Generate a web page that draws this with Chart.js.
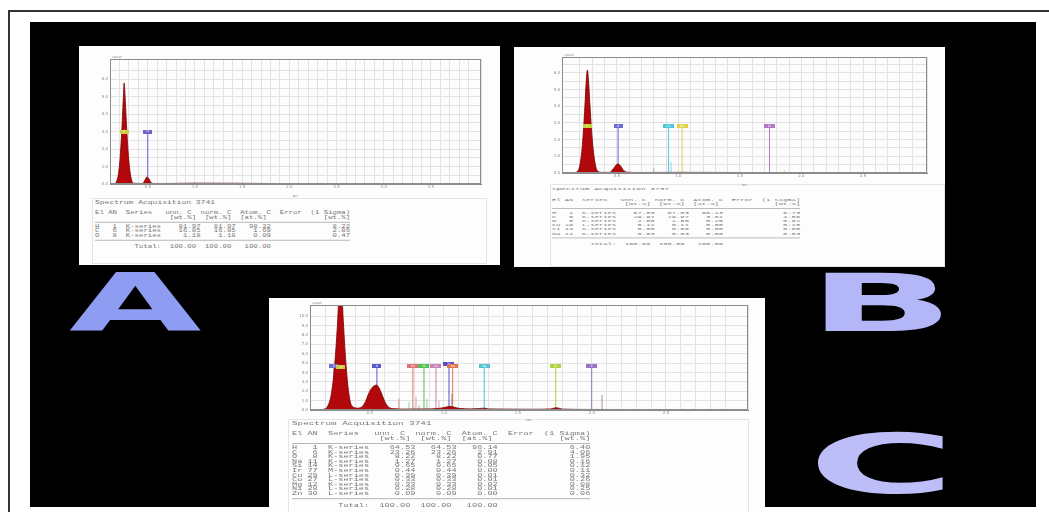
<!DOCTYPE html>
<html>
<head>
<meta charset="utf-8">
<script src="https://cdn.jsdelivr.net/npm/chart.js@4.4.1/dist/chart.umd.min.js"></script>
<style>
  html, body { margin:0; padding:0; background:#fff; width:1049px; height:512px; overflow:hidden; position:relative; }
  #frame { position:absolute; left:8px; top:10px; width:1045px; height:510px; border-left:2px solid #333; border-top:2px solid #333; }
  #black { position:absolute; left:30px; top:22px; width:1006px; height:485px; background:#000; }
  .card { position:absolute; background:#fdfdfd; }
  .tbox { position:absolute; border:1px solid #e4e4e4; }
  canvas { position:absolute; }
  .tbl { position:absolute; transform-origin:0 0; font-family:"Liberation Mono", monospace; font-size:10px; color:#777; white-space:pre; }
  .tbl div { height:10px; line-height:10px; position:relative; }
  .tbl .sep::after { content:''; position:absolute; left:0; top:4px; width:348px; border-top:2px solid #b0b0b0; }
  .tbl .tot { margin-top:5px; }
  .big { position:absolute; transform-origin:0 0; font-family:"DejaVu Sans", sans-serif; font-weight:bold; line-height:1; }
</style>
</head>
<body>
<div id="frame"></div>
<div id="black"></div>

<div class="card" style="left:79px;top:46px;width:421px;height:219px"></div>
<div class="card" style="left:514px;top:47px;width:431px;height:220px"></div>
<div class="card" style="left:269px;top:298px;width:496px;height:214px"></div>

<div class="tbox" style="left:92px;top:198px;width:393px;height:64px"></div>
<div class="tbox" style="left:550px;top:184px;width:393px;height:81px"></div>
<div class="tbox" style="left:288px;top:419px;width:459px;height:100px"></div>

<canvas id="specA" width="397" height="146" style="left:90px;top:52px"></canvas>
<canvas id="specB" width="391" height="137" style="left:542px;top:50px"></canvas>
<canvas id="specC" width="464" height="124" style="left:290px;top:298px"></canvas>

<div class="tbl" id="titleA" style="left:95px;top:199.5px;transform:scale(0.8,0.45)"></div>
<div class="tbl" id="tblA" style="left:95px;top:210.7px;transform:scale(0.733,0.45)"></div>
<div class="tbl" id="titleB" style="left:552px;top:186.8px;transform:scale(0.78,0.42)"></div>
<div class="tbl" id="tblB" style="left:552px;top:197.9px;transform:scale(0.713,0.42)"></div>
<div class="tbl" id="titleC" style="left:292px;top:420.7px;transform:scale(0.93,0.46)"></div>
<div class="tbl" id="tblC" style="left:292px;top:431.7px;transform:scale(0.857,0.46)"></div>

<div class="big" style="left:69px;top:263.6px;font-size:80px;color:#8e9cf1;transform:scaleX(2.14)">A</div>
<div class="big" style="left:808px;top:263.6px;font-size:80px;color:#b3b6f7;transform:scaleX(2.4)">B</div>
<div class="big" style="left:808px;top:424px;font-size:82px;color:#bdbdf8;transform:scaleX(2.45)">C</div>

<script>
// ── Spectrum A ───────────────────────────────────────────────
const aEnergy = [0.10, 0.15, 0.17, 0.19, 0.21, 0.23, 0.24, 0.25, 0.26, 0.27, 0.29, 0.31, 0.33, 0.35, 0.44, 0.46, 0.48, 0.49, 0.51, 0.53, 0.56, 0.70, 1.00, 1.50, 2.00, 3.00, 4.03];
const aCounts = [0, 0.02, 0.15, 0.6, 1.7, 3.6, 4.8, 5.8, 5.0, 3.9, 2.0, 0.8, 0.2, 0.04, 0.03, 0.12, 0.33, 0.40, 0.32, 0.12, 0.03, 0.03, 0.05, 0.04, 0.02, 0.01, 0.01];
const aLineKeV = [0.25, 0.50];
const aLineTop = [3.0, 3.0];
const aLineTag = ['C', 'O'];
const aLineColor = ['#d2cc46', '#7462c6'];
const aStickKeV = [];
const aStickTop = [];
const aStickColor = [];

// ── Spectrum B ───────────────────────────────────────────────
const bEnergy = [0.054, 0.15, 0.18, 0.20, 0.22, 0.24, 0.25, 0.26, 0.27, 0.28, 0.30, 0.32, 0.34, 0.37, 0.44, 0.46, 0.48, 0.50, 0.51, 0.53, 0.55, 0.58, 0.70, 1.00, 1.50, 2.00, 3.02];
const bCounts = [0, 0.02, 0.1, 0.5, 1.7, 4.0, 5.4, 6.17, 5.5, 4.2, 2.0, 0.7, 0.15, 0.04, 0.04, 0.15, 0.35, 0.52, 0.54, 0.42, 0.2, 0.05, 0.03, 0.04, 0.03, 0.02, 0.01];
const bLineKeV = [0.26, 0.51, 0.92, 1.03, 1.74];
const bLineTop = [2.8, 2.8, 2.8, 2.8, 2.8];
const bLineTag = ['C', 'O', 'Cu', 'Na', 'Si'];
const bLineColor = ['#c6d43c', '#6a68d6', '#4cc6d8', '#e0d048', '#b478c6'];
const bStickKeV = [0.80, 0.94, 1.86];
const bStickTop = [0.30, 0.66, 0.15];
const bStickColor = ['#b0b0b0', '#86d6e2', '#c0c0c0'];

// ── Spectrum C ───────────────────────────────────────────────
const cEnergy = [0.095, 0.17, 0.20, 0.22, 0.24, 0.26, 0.28, 0.29, 0.30, 0.31, 0.32, 0.34, 0.36, 0.38, 0.42, 0.45, 0.47, 0.49, 0.51, 0.53, 0.545, 0.56, 0.58, 0.60, 0.62, 0.65, 0.75, 0.90, 0.98, 1.01, 1.04, 1.07, 1.10, 1.18, 1.24, 1.27, 1.30, 1.40, 1.60, 1.72, 1.76, 1.80, 2.00, 2.50, 3.054];
const cCounts = [0, 0.05, 0.15, 0.6, 1.8, 4.5, 9, 12, 14, 12.5, 9.5, 4.5, 1.5, 0.4, 0.2, 0.4, 0.9, 1.7, 2.3, 2.6, 2.65, 2.4, 1.7, 0.9, 0.4, 0.15, 0.1, 0.12, 0.2, 0.3, 0.38, 0.3, 0.18, 0.12, 0.15, 0.2, 0.12, 0.1, 0.08, 0.12, 0.25, 0.1, 0.06, 0.04, 0.03];
const cLineKeV = [0.257, 0.304, 0.547, 0.79, 0.865, 0.946, 1.034, 1.059, 1.272, 1.755, 1.998];
const cLineTop = [4.7, 4.6, 4.7, 4.7, 4.7, 4.7, 4.9, 4.7, 4.7, 4.7, 4.7];
const cLineTag = ['C', 'C', 'O', 'Co', 'Ni', 'Cu', 'Zn', 'Na', 'Mg', 'Si', 'Ir'];
const cLineColor = ['#7070d2', '#c8d044', '#5a5ad0', '#e07474', '#52c052', '#c584b4', '#5452c8', '#e2744e', '#54c2d2', '#b2d244', '#9474c4'];
const cStickKeV = [0.696, 0.764, 0.811, 0.831, 0.885, 0.966, 1.054, 2.068];
const cStickTop = [1.2, 0.85, 1.4, 0.5, 1.2, 1.0, 1.7, 1.6];
const cStickColor = ['#c49494', '#98d698', '#d6a4a4', '#c8a8a8', '#98d498', '#d4a4c4', '#a07070', '#b09090'];

// ── Quantification tables ────────────────────────────────────
const aTitle = 'Spectrum Acquisition 3741';
const aRows = [
  ['H', 1, 'K-series', 81.97, 81.97, 98.22, 8.22],
  ['C', 6, 'K-series', 16.85, 16.85, 1.69, 2.86],
  ['O', 8, 'K-series', 1.18, 1.18, 0.09, 0.47]
];
const bTitle = 'Spectrum Acquisition 3737';
const bRows = [
  ['H', 1, 'K-series', 67.03, 67.03, 96.13, 6.73],
  ['C', 6, 'K-series', 29.97, 29.97, 3.61, 4.56],
  ['O', 8, 'K-series', 2.80, 2.80, 0.25, 0.62],
  ['Cu', 29, 'L-series', 0.11, 0.11, 0.00, 0.15],
  ['Si', 14, 'K-series', 0.06, 0.06, 0.00, 0.05],
  ['Na', 11, 'K-series', 0.03, 0.03, 0.00, 0.03]
];
const cTitle = 'Spectrum Acquisition 3741';
const cRows = [
  ['H', 1, 'K-series', 64.53, 64.53, 96.14, 6.40],
  ['C', 6, 'K-series', 23.26, 23.26, 2.91, 4.06],
  ['O', 8, 'K-series', 8.22, 8.22, 0.77, 1.95],
  ['Na', 11, 'K-series', 1.27, 1.27, 0.08, 0.16],
  ['Si', 14, 'K-series', 0.65, 0.65, 0.05, 0.12],
  ['Ir', 77, 'M-series', 0.44, 0.44, 0.00, 0.11],
  ['Cu', 29, 'L-series', 0.39, 0.39, 0.01, 0.32],
  ['Co', 27, 'L-series', 0.33, 0.33, 0.01, 0.26],
  ['Mg', 12, 'K-series', 0.33, 0.33, 0.02, 0.08],
  ['Ni', 28, 'L-series', 0.28, 0.28, 0.01, 0.25],
  ['Zn', 30, 'L-series', 0.09, 0.09, 0.00, 0.06]
];

// frame, peak-label boxes, cps/eV caption
const spectrumDecor = {
  id: 'spectrumDecor',
  afterDatasetsDraw(chart) {
    const { ctx, chartArea: a } = chart;
    ctx.save();
    chart.data.datasets.forEach((d, i) => {
      if (!d.tag) return;
      const p = chart.getDatasetMeta(i).data[1];
      const w = d.tag.length > 1 ? 11 : 9;
      ctx.fillStyle = d.borderColor;
      ctx.fillRect(Math.round(p.x - w / 2), Math.round(p.y - 2), w, 4);
      ctx.fillStyle = '#fff';
      ctx.font = '3px "DejaVu Sans"';
      ctx.textAlign = 'center'; ctx.textBaseline = 'middle';
      ctx.fillText(d.tag, p.x, p.y);
    });
    ctx.strokeStyle = '#8c8c8c'; ctx.lineWidth = 1;
    ctx.strokeRect(a.left + 0.5, a.top + 0.5, a.right - a.left - 1, a.bottom - a.top - 1);
    ctx.fillStyle = '#888';
    ctx.font = '3px "DejaVu Sans"';
    ctx.textAlign = 'left'; ctx.textBaseline = 'bottom';
    ctx.fillText('cps/eV', a.left + 2, a.top);
    ctx.restore();
  }
};

function near(v, step) { return Math.abs(v / step - Math.round(v / step)) < 1e-6; }

function spectrumChart(id, s) {
  const datasets = [{
    data: s.energy.map((e, i) => ({ x: e, y: s.counts[i] })),
    fill: 'origin', backgroundColor: '#b2080c', borderColor: '#7a0000', borderWidth: 0.8,
    pointRadius: 0, tension: 0.4, cubicInterpolationMode: 'monotone', order: 0
  }];
  s.lineKeV.forEach((k, i) => datasets.push({
    data: [{ x: k, y: 0 }, { x: k, y: s.lineTop[i] }], tag: s.lineTag[i],
    borderColor: s.lineColor[i], borderWidth: 1, pointRadius: 0, fill: false, order: 1
  }));
  s.stickKeV.forEach((k, i) => datasets.push({
    data: [{ x: k, y: 0 }, { x: k, y: s.stickTop[i] }],
    borderColor: s.stickColor[i], borderWidth: 1, pointRadius: 0, fill: false, order: 2
  }));
  const tickFont = { size: 4, family: 'DejaVu Sans' };
  new Chart(document.getElementById(id), {
    type: 'line',
    data: { datasets },
    plugins: [spectrumDecor],
    options: {
      responsive: false, animation: false, devicePixelRatio: 1,
      layout: { padding: { top: 7, right: 6, left: 0, bottom: 0 } },
      plugins: { legend: { display: false }, tooltip: { enabled: false } },
      scales: {
        x: {
          type: 'linear', min: s.xMin, max: s.xMax,
          afterFit: sc => { sc.height = s.xH; },
          ticks: { stepSize: 0.1, autoSkip: false, maxRotation: 0, padding: 1, font: tickFont, color: '#888',
                   callback: v => (near(v, 0.5) && v > 0.2 ? v.toFixed(1) : '') },
          grid: { color: '#e2e2e2', drawTicks: false },
          border: { color: '#8c8c8c' },
          title: { display: true, text: 'keV', font: { size: 3, family: 'DejaVu Sans' }, color: '#888', padding: 0 }
        },
        y: {
          min: 0, max: s.yMax,
          afterFit: sc => { sc.width = 20; },
          ticks: { stepSize: s.yStep, autoSkip: false, padding: 2, font: tickFont, color: '#888',
                   callback: v => (near(v, 1) && v <= s.yLabelMax ? v.toFixed(1) : '') },
          grid: { color: '#e2e2e2', drawTicks: false },
          border: { color: '#8c8c8c' }
        }
      }
    }
  });
}

spectrumChart('specA', { energy: aEnergy, counts: aCounts, lineKeV: aLineKeV, lineTop: aLineTop, lineTag: aLineTag, lineColor: aLineColor,
  stickKeV: aStickKeV, stickTop: aStickTop, stickColor: aStickColor, xMin: 0.1, xMax: 4.03, yMax: 7.17, yLabelMax: 7, yStep: 0.5, xH: 14 });
spectrumChart('specB', { energy: bEnergy, counts: bCounts, lineKeV: bLineKeV, lineTop: bLineTop, lineTag: bLineTag, lineColor: bLineColor,
  stickKeV: bStickKeV, stickTop: bStickTop, stickColor: bStickColor, xMin: 0.054, xMax: 3.02, yMax: 6.95, yLabelMax: 6, yStep: 0.5, xH: 14 });
spectrumChart('specC', { energy: cEnergy, counts: cCounts, lineKeV: cLineKeV, lineTop: cLineTop, lineTag: cLineTag, lineColor: cLineColor,
  stickKeV: cStickKeV, stickTop: cStickTop, stickColor: cStickColor, xMin: 0.095, xMax: 3.054, yMax: 11.2, yLabelMax: 11, yStep: 1, xH: 12 });

// ── tables as monospaced text ─────────────────────────────────
function fmtRow(r) {
  return r[0].padEnd(3) + String(r[1]).padStart(2) + '  ' + r[2] +
    r[3].toFixed(2).padStart(9) + r[4].toFixed(2).padStart(8) + r[5].toFixed(2).padStart(8) + r[6].toFixed(2).padStart(18);
}
function fillTable(titleId, tblId, title, rows) {
  document.getElementById(titleId).textContent = title;
  const head = ['El AN  Series   unn. C  norm. C  Atom. C  Error  (1 Sigma)',
                ' '.repeat(17) + '[wt.%]  [wt.%]  [at.%]' + ' '.repeat(13) + '[wt.%]'];
  const el = document.getElementById(tblId);
  const add = (txt, cls) => { const d = document.createElement('div'); d.textContent = txt; if (cls) d.className = cls; el.appendChild(d); };
  head.forEach(h => add(h));
  add('', 'sep');
  rows.forEach(r => add(fmtRow(r)));
  add('', 'sep');
  add(' '.repeat(9) + 'Total:  100.00  100.00   100.00', 'tot');
}
fillTable('titleA', 'tblA', aTitle, aRows);
fillTable('titleB', 'tblB', bTitle, bRows);
fillTable('titleC', 'tblC', cTitle, cRows);
</script>
</body>
</html>
